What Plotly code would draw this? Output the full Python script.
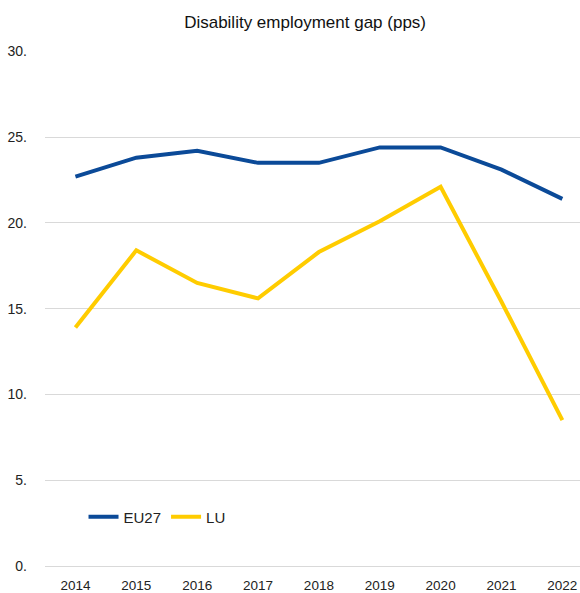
import plotly.graph_objects as go

years = ["2014", "2015", "2016", "2017", "2018", "2019", "2020", "2021", "2022"]
eu27 = [22.7, 23.8, 24.2, 23.5, 23.5, 24.4, 24.4, 23.1, 21.4]
lu = [13.9, 18.4, 16.5, 15.6, 18.3, 20.1, 22.1, 15.4, 8.5]
y_ticks = [0, 5, 10, 15, 20, 25, 30]
y_tick_labels = ["0.", "5.", "10.", "15.", "20.", "25.", "30."]

FONT = "Liberation Sans"
W, H = 580, 593

fig = go.Figure()
fig.add_trace(go.Scatter(x=years, y=eu27, mode="lines", name="EU27",
                         line=dict(color="#0B4A98", width=4)))
fig.add_trace(go.Scatter(x=years, y=lu, mode="lines", name="LU",
                         line=dict(color="#FFCC00", width=4)))

fig.update_layout(
    width=W, height=H,
    margin=dict(l=45, r=0, t=51, b=27),
    paper_bgcolor="white", plot_bgcolor="white",
    font=dict(family=FONT, size=13, color="#222222"),
    title=dict(text="Disability employment gap (pps)", x=0.526, xanchor="center",
               y=1 - 22 / H, yanchor="middle",
               font=dict(family=FONT, size=17, color="#111111")),
    showlegend=True,
    legend=dict(orientation="h", x=0.072, y=0.095, xanchor="left", yanchor="middle",
                bgcolor="rgba(0,0,0,0)", font=dict(size=15, color="#222222"),
                itemwidth=30),
)
fig.update_xaxes(type="category", range=[-0.5, 8.29], showgrid=False,
                 showline=False, ticks="", zeroline=False, ticklabelstandoff=9,
                 tickfont=dict(size=13.5))
fig.update_yaxes(range=[0, 30.02], tickvals=y_ticks, ticktext=y_tick_labels,
                 showgrid=True, gridcolor="#D9D9D9", gridwidth=1,
                 zeroline=True, zerolinecolor="#D9D9D9", zerolinewidth=1,
                 showline=False, ticks="", ticklabelstandoff=17,
                 tickfont=dict(size=14))

fig.write_html(
    "out.html",
    config={"displayModeBar": False},
    post_script="document.body.style.margin='0';document.body.style.overflow='hidden';",
)
